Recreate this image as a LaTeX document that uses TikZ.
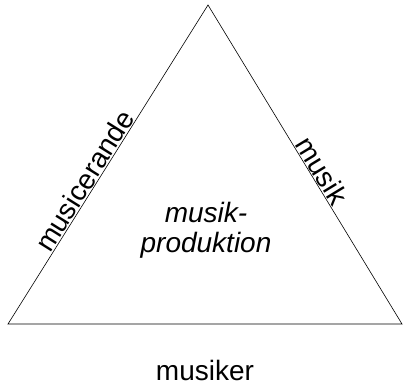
\documentclass[tikz,border=0pt]{standalone}
\usepackage{fontspec}
\setmainfont{Liberation Sans}
\begin{document}
\begin{tikzpicture}[x=1pt,y=-1pt,
  lbl/.style={font=\fontsize{28}{30}\selectfont, inner sep=1pt},
  edge/.style={line width=0.6pt, line join=miter}]
\useasboundingbox (0,0) rectangle (404,385);
\coordinate (A) at (208,5);
\coordinate (L) at (8,324);
\coordinate (R) at (402,324);
\draw[edge] (L) -- (A) -- (R) -- cycle;
\path (L) -- (A) node[lbl, sloped, above, pos=0.43] (mc) {musicerande};
\path (A) -- (R) node[lbl, sloped, above, pos=0.538] (mu) {musik};
\node[lbl, anchor=base] (mk) at (205,380) {musiker};
\node[lbl, font=\fontsize{28}{30}\selectfont\itshape, align=center] (mp) at (206,230) {musik-\\produktion};
\end{tikzpicture}
\end{document}
